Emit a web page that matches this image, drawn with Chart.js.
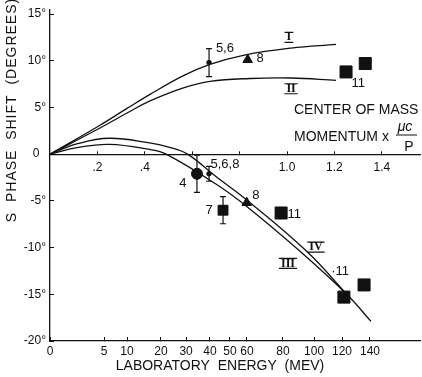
<!DOCTYPE html>
<html>
<head>
<meta charset="utf-8">
<script src="https://cdn.jsdelivr.net/npm/chart.js@4.4.0/dist/chart.umd.min.js"></script>
<style>
  html, body { margin: 0; padding: 0; background: #fff; }
  #wrap { width: 422px; height: 377px; }
</style>
</head>
<body>
<div id="wrap"><canvas id="phaseChart"></canvas></div>
<script>
// x = centre of mass momentum (units of μc/P), y = S phase shift in degrees
const curveIMom = [0, 0.211, 0.325, 0.422, 0.563, 0.675, 0.82, 1.017, 1.207];
const curveIShift = [0, 3.1, 4.9, 6.4, 8.4, 9.6, 10.6, 11.35, 11.75];
const curveIIMom = [0, 0.211, 0.325, 0.422, 0.563, 0.675, 0.844, 1.017, 1.207];
const curveIIShift = [0, 2.8, 4.4, 5.7, 7.1, 7.8, 8.1, 8.15, 7.9];
const curveIIIMom = [0, 0.113, 0.25, 0.42, 0.49, 0.70, 0.83, 1.055, 1.252, 1.354];
const curveIIIShift = [0, 0.7, 1.05, 0.5, 0, -3.2, -5.6, -10.4, -15.0, -17.9];
const curveIVMom = [0, 0.113, 0.25, 0.42, 0.50, 0.58, 0.70, 0.83, 1.083, 1.252];
const curveIVShift = [0, 1.1, 1.7, 1.2, 0.75, 0, -2.4, -4.9, -10.4, -15.0];

// measured points (with errors where drawn)
const bigCircleMom = [0.62];
const bigCircleShift = [-2.1];
const bigCircleErr = [2.0];
const smallCircleMom = [0.671, 0.671];
const smallCircleShift = [9.8, -2.1];
const smallCircleErr = [1.5, 0.8];
const triangleMom = [0.834, 0.83];
const triangleShift = [10.1, -5.2];
const squareMom = [1.249, 1.33, 0.975, 1.24, 1.325];
const squareShift = [8.8, 9.7, -6.3, -15.3, -14.0];
const hatchSquareMom = [0.73];
const hatchSquareShift = [-6.0];
const hatchSquareErr = [1.45];

// axes
const cmTicks = [0.2, 0.4, 0.6, 0.8, 1.0, 1.2, 1.4];
const cmTickLabels = ['.2', '.4', '', '', '1.0', '1.2', '1.4'];
const labEnergy = ['0', '5', '10', '20', '30', '40', '50', '60', '80', '100', '120', '140'];
const labEnergyPos = [0, 0.228, 0.325, 0.468, 0.574, 0.675, 0.759, 0.831, 0.983, 1.114, 1.232, 1.35];
const yTicks = [-20, -15, -10, -5, 0, 5, 10, 15];
const yTickLabels = ['-20°', '-15°', '-10°', '-5°', '0\u2007', '5°', '10°', '15°'];

// reference numbers beside the points
const noteText = ['5,6', '8', '11', '4', '5,6,8', '7', '8', '11', '·11'];
const noteMom = [0.738, 0.886, 1.30, 0.561, 0.738, 0.671, 0.869, 1.03, 1.224];
const noteShift = [11.35, 10.2, 7.6, -3.1, -1.07, -6.0, -4.4, -6.5, -12.5];
const romanText = ['I', 'II', 'III', 'IV'];
const romanMom = [1.008, 1.017, 1.004, 1.122];
const romanShift = [12.5, 7.0, -11.7, -9.95];

const ink = '#111';
const font = "'Liberation Sans', 'DejaVu Sans', sans-serif";

const pts = (xs, ys) => xs.map((x, i) => ({ x: x, y: ys[i] }));

const curve = (xs, ys) => ({
  type: 'line', data: pts(xs, ys), borderColor: ink, borderWidth: 1.3,
  pointRadius: 0, tension: 0.4, fill: false, order: 5
});
const marks = (xs, ys, style, r, errs) => ({
  type: 'scatter', data: pts(xs, ys), pointStyle: style, pointRadius: r,
  backgroundColor: ink, borderColor: ink, borderWidth: 1, errs: errs, order: 1
});

const noPadX = (s) => { s.paddingLeft = 0; s.paddingRight = 0; };

const errorBars = {
  id: 'errorBars',
  afterDatasetsDraw(chart) {
    const ctx = chart.ctx;
    const ys = chart.scales.y;
    ctx.save();
    ctx.strokeStyle = ink;
    ctx.lineWidth = 1.2;
    chart.data.datasets.forEach((ds, di) => {
      if (!ds.errs) return;
      const meta = chart.getDatasetMeta(di);
      ds.data.forEach((p, i) => {
        const px = meta.data[i].x;
        const top = ys.getPixelForValue(p.y + ds.errs[i]);
        const bot = ys.getPixelForValue(p.y - ds.errs[i]);
        ctx.beginPath();
        ctx.moveTo(px, top); ctx.lineTo(px, bot);
        ctx.moveTo(px - 3, top); ctx.lineTo(px + 3, top);
        ctx.moveTo(px - 3, bot); ctx.lineTo(px + 3, bot);
        ctx.stroke();
      });
    });
    ctx.restore();
  }
};

const notes = {
  id: 'notes',
  afterDraw(chart) {
    const ctx = chart.ctx;
    const xs = chart.scales.x, ys = chart.scales.y;
    ctx.save();
    ctx.fillStyle = ink;
    ctx.strokeStyle = ink;
    ctx.textBaseline = 'middle';
    ctx.textAlign = 'center';
    ctx.font = '13px ' + font;
    noteText.forEach((t, i) => {
      ctx.fillText(t, xs.getPixelForValue(noteMom[i]), ys.getPixelForValue(noteShift[i]));
    });

    // roman numerals with bars above and below
    ctx.font = "bold 12px 'Liberation Serif', serif";
    ctx.lineWidth = 1.2;
    romanText.forEach((t, i) => {
      const cx = xs.getPixelForValue(romanMom[i]);
      const cy = ys.getPixelForValue(romanShift[i]);
      const w = ctx.measureText(t).width + 4;
      ctx.fillText(t, cx, cy);
      ctx.beginPath();
      ctx.moveTo(cx - w / 2, cy - 5); ctx.lineTo(cx + w / 2, cy - 5);
      ctx.moveTo(cx - w / 2, cy + 5); ctx.lineTo(cx + w / 2, cy + 5);
      ctx.stroke();
    });

    // upper axis caption
    ctx.font = '14px ' + font;
    ctx.textAlign = 'left';
    ctx.fillText('CENTER OF MASS', 294, 110);
    ctx.fillText('MOMENTUM x', 294, 137);
    ctx.textAlign = 'center';
    ctx.font = 'italic 14px ' + font;
    ctx.fillText('μc', 405, 127);
    ctx.font = '14px ' + font;
    ctx.fillText('P', 409, 147);
    ctx.lineWidth = 1;
    ctx.beginPath();
    ctx.moveTo(396, 135); ctx.lineTo(417, 135);
    ctx.stroke();

    // axis titles
    ctx.font = '14px ' + font;
    ctx.fillText('LABORATORY  ENERGY  (MEV)', 220, 366);
    ctx.translate(12, 110);
    ctx.rotate(-Math.PI / 2);
    ctx.letterSpacing = '1px';
    ctx.fillText('S  PHASE  SHIFT  (DEGREES)', 0, 0);
    ctx.restore();
  }
};

new Chart(document.getElementById('phaseChart'), {
  data: {
    datasets: [
      marks(bigCircleMom, bigCircleShift, 'circle', 5.5, bigCircleErr),
      marks(smallCircleMom, smallCircleShift, 'circle', 2.3, smallCircleErr),
      marks(triangleMom, triangleShift, 'triangle', 5.5),
      marks(squareMom, squareShift, 'rect', 8.5),
      marks(hatchSquareMom, hatchSquareShift, 'rect', 7, hatchSquareErr),
      curve(curveIMom, curveIShift),
      curve(curveIIMom, curveIIShift),
      curve(curveIIIMom, curveIIIShift),
      curve(curveIVMom, curveIVShift)
    ]
  },
  options: {
    responsive: true,
    maintainAspectRatio: false,
    animation: false,
    layout: { autoPadding: false, padding: { left: 0, right: 2, top: 10, bottom: 0 } },
    plugins: { legend: { display: false }, tooltip: { enabled: false } },
    scales: {
      x: {
        type: 'linear', position: { y: 0 }, min: 0, max: 1.561,
        afterBuildTicks: (s) => { s.ticks = cmTicks.map(v => ({ value: v })); },
        afterFit: noPadX,
        ticks: {
          callback: (v, i) => cmTickLabels[i], color: ink, padding: 10,
          font: { family: font, size: 12 }, autoSkip: false, maxRotation: 0
        },
        grid: { drawOnChartArea: false, tickLength: -4, color: ink },
        border: { color: ink, width: 1.3 }
      },
      x2: {
        type: 'linear', position: 'bottom', min: 0, max: 1.561,
        afterBuildTicks: (s) => { s.ticks = labEnergyPos.map(v => ({ value: v })); },
        afterFit: (s) => { s.height = 36; noPadX(s); },
        ticks: {
          callback: (v, i) => labEnergy[i], color: ink, padding: 7,
          font: { family: font, size: 12 }, autoSkip: false, maxRotation: 0
        },
        grid: { drawOnChartArea: false, tickLength: -4, color: ink },
        border: { color: ink, width: 1.3 }
      },
      y: {
        type: 'linear', position: 'left', min: -20, max: 15.43,
        afterBuildTicks: (s) => { s.ticks = yTicks.map(v => ({ value: v })); },
        afterFit: (s) => { s.width = 50; s.paddingTop = 0; s.paddingBottom = 0; },
        ticks: {
          callback: (v, i) => yTickLabels[i], color: ink, padding: 8,
          font: { family: font, size: 12 }
        },
        grid: { drawOnChartArea: false, tickLength: -4, color: ink },
        border: { color: ink, width: 1.3 }
      }
    }
  },
  plugins: [errorBars, notes]
});
</script>
</body>
</html>
